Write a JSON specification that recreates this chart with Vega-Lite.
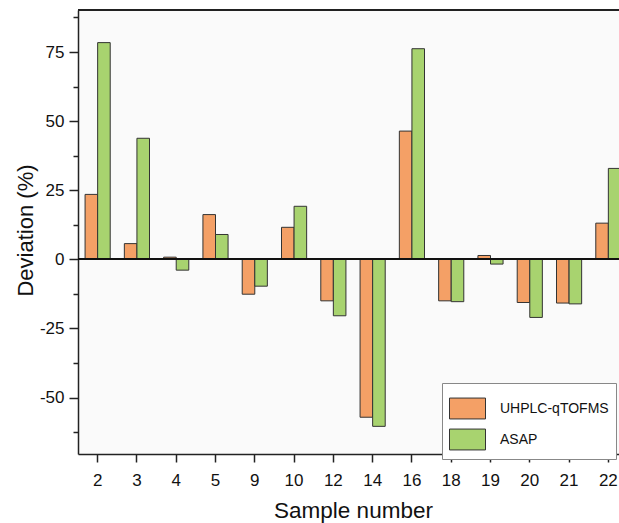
{
  "$schema": "https://vega.github.io/schema/vega-lite/v6.json",
  "width": 541,
  "height": 444,
  "autosize": {"type": "none"},
  "padding": {"left": 78, "top": 10, "right": 0, "bottom": 69},
  "background": "#ffffff",
  "config": {
    "view": {"stroke": null, "fill": "#fafafa"},
    "font": "Liberation Sans",
    "axis": {"labelFont": "Liberation Sans", "titleFont": "Liberation Sans", "labelColor": "#111", "titleColor": "#111", "titleFontWeight": "normal", "domainColor": "#222", "domainWidth": 1.5, "tickColor": "#222", "tickWidth": 1.5, "grid": false}
  },
  "data": {"values": [
    {"sample": "2", "method": "UHPLC-qTOFMS", "value": 23.5},
    {"sample": "2", "method": "ASAP", "value": 78.4},
    {"sample": "3", "method": "UHPLC-qTOFMS", "value": 5.7},
    {"sample": "3", "method": "ASAP", "value": 43.8},
    {"sample": "4", "method": "UHPLC-qTOFMS", "value": 0.8},
    {"sample": "4", "method": "ASAP", "value": -3.9},
    {"sample": "5", "method": "UHPLC-qTOFMS", "value": 16.2},
    {"sample": "5", "method": "ASAP", "value": 9.0},
    {"sample": "9", "method": "UHPLC-qTOFMS", "value": -12.6},
    {"sample": "9", "method": "ASAP", "value": -9.7},
    {"sample": "10", "method": "UHPLC-qTOFMS", "value": 11.6},
    {"sample": "10", "method": "ASAP", "value": 19.2},
    {"sample": "12", "method": "UHPLC-qTOFMS", "value": -15.0},
    {"sample": "12", "method": "ASAP", "value": -20.4},
    {"sample": "14", "method": "UHPLC-qTOFMS", "value": -57.1},
    {"sample": "14", "method": "ASAP", "value": -60.4},
    {"sample": "16", "method": "UHPLC-qTOFMS", "value": 46.4},
    {"sample": "16", "method": "ASAP", "value": 76.2},
    {"sample": "18", "method": "UHPLC-qTOFMS", "value": -15.0},
    {"sample": "18", "method": "ASAP", "value": -15.3},
    {"sample": "19", "method": "UHPLC-qTOFMS", "value": 1.4},
    {"sample": "19", "method": "ASAP", "value": -1.7},
    {"sample": "20", "method": "UHPLC-qTOFMS", "value": -15.6},
    {"sample": "20", "method": "ASAP", "value": -21.0},
    {"sample": "21", "method": "UHPLC-qTOFMS", "value": -15.8},
    {"sample": "21", "method": "ASAP", "value": -16.1},
    {"sample": "22", "method": "UHPLC-qTOFMS", "value": 13.1},
    {"sample": "22", "method": "ASAP", "value": 32.9}
  ]},
  "resolve": {"axis": {"y": "independent"}},
  "layer": [
    {
      "mark": {"type": "bar", "stroke": "#333333", "strokeWidth": 1},
      "encoding": {
        "x": {
          "field": "sample", "type": "nominal", "sort": null,
          "scale": {"range": [0, 550], "paddingInner": 0.36, "paddingOuter": 0.18},
          "axis": {
            "title": "Sample number", "titleFontSize": 22.5, "titleY": 63, "titleX": 275, "titleAlign": "center", "titleBaseline": "alphabetic",
            "labelFontSize": 17, "labelAngle": 0, "labelPadding": 10, "tickSize": 8, "domain": true
          }
        },
        "xOffset": {"field": "method", "type": "nominal", "sort": ["UHPLC-qTOFMS", "ASAP"]},
        "y": {
          "field": "value", "type": "quantitative",
          "scale": {"domain": [-70.4, 90.2], "nice": false, "zero": false},
          "axis": {
            "orient": "left",
            "title": "Deviation (%)", "titleFontSize": 22, "titleX": -46, "titleY": 220, "titleAngle": 270, "titleAlign": "center", "titleBaseline": "alphabetic",
            "values": [-50, -25, 0, 25, 50, 75],
            "labelExpr": "'' + datum.value",
            "labelOverlap": false,
            "labelFontSize": 17, "labelPadding": 5,
            "tickSize": 9
          }
        },
        "color": {
          "field": "method", "type": "nominal", "sort": ["UHPLC-qTOFMS", "ASAP"],
          "scale": {"domain": ["UHPLC-qTOFMS", "ASAP"], "range": ["#F4A066", "#A8D36F"]},
          "legend": {
            "title": null, "orient": "none", "legendX": 364, "legendY": 373,
            "symbolType": "M-1,-0.58H1V0.58H-1Z", "symbolSize": 1296, "symbolStrokeColor": "#333333", "symbolStrokeWidth": 1, "symbolOpacity": 1,
            "labelFontSize": 14, "labelFont": "Liberation Sans", "labelColor": "#111", "labelOffset": 14,
            "rowPadding": -11, "padding": 7, "strokeColor": "#888888", "fillColor": "#ffffff"
          }
        }
      }
    },
    {
      "mark": {"type": "rule", "color": "#111", "strokeWidth": 1.5},
      "encoding": {
        "y": {
          "datum": 0, "type": "quantitative",
          "axis": {"orient": "left", "title": null, "labels": false, "domain": false, "tickSize": 5, "values": [-62.5, -37.5, -12.5, 12.5, 37.5, 62.5, 87.5]}
        }
      }
    },
    {
      "mark": {"type": "rule", "color": "#222", "strokeWidth": 1.5},
      "encoding": {"y": {"datum": 90.2, "type": "quantitative", "axis": null}}
    }
  ]
}
